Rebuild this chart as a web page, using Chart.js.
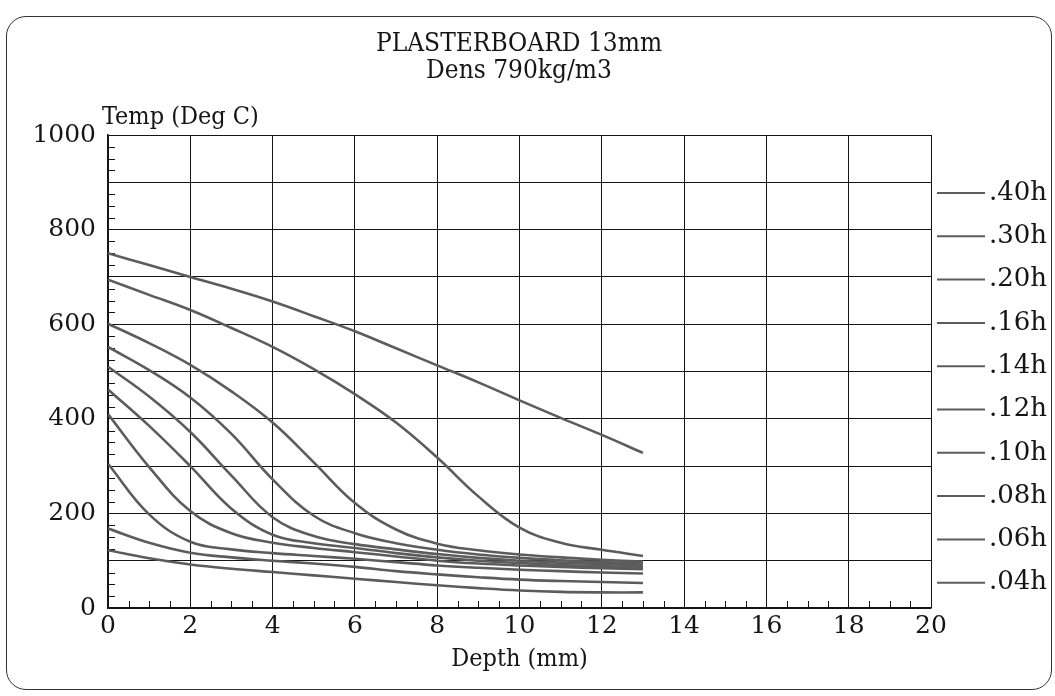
<!DOCTYPE html>
<html>
<head>
<meta charset="utf-8">
<script src="https://cdn.jsdelivr.net/npm/chart.js@4.4.0/dist/chart.umd.min.js"></script>
<style>
html, body { margin: 0; padding: 0; background: #fff; }
#wrap { position: relative; width: 1055px; height: 696px; }
#frame { position: absolute; left: 6px; top: 16px; width: 1046px; height: 674px; border: 1.5px solid #333; border-radius: 20px; box-sizing: border-box; pointer-events: none; }
canvas { position: absolute; left: 0; top: 0; }
</style>
</head>
<body>
<div id="wrap">
  <canvas id="grafico" width="1055" height="696"></canvas>
  <div id="frame"></div>
</div>
<script>
// depth (mm) and temperature profiles (deg C)
const depth = [0, 1, 2, 3, 4, 5, 6, 7, 8, 9, 10, 11, 12, 13];
const t40 = [750, 725, 700, 675, 648, 617, 585, 549, 513, 477, 439, 402, 366, 328];
const t30 = [694, 662, 630, 592, 552, 505, 452, 392, 318, 236, 170, 138, 123, 110];
const t20 = [601, 560, 514, 458, 392, 308, 222, 166, 136, 122, 113, 107, 102, 98];
const t16 = [552, 503, 445, 368, 272, 195, 158, 137, 123, 113, 106, 101, 97, 94];
const t14 = [510, 447, 372, 280, 192, 152, 135, 124, 114, 106, 100, 96, 93, 90];
const t12 = [462, 385, 300, 210, 155, 137, 127, 116, 107, 100, 95, 91, 88, 86];
const t10 = [410, 298, 205, 158, 138, 127, 118, 109, 100, 94, 90, 87, 84, 82];
const t08 = [305, 198, 140, 124, 116, 110, 104, 97, 90, 85, 81, 78, 75, 73];
const t06 = [168, 138, 117, 107, 100, 94, 87, 78, 71, 65, 60, 57, 55, 53];
const t04 = [122, 105, 92, 83, 76, 69, 62, 55, 48, 42, 37, 34, 33, 33];

const times = ['.40h', '.30h', '.20h', '.16h', '.14h', '.12h', '.10h', '.08h', '.06h', '.04h'];
const series = [t40, t30, t20, t16, t14, t12, t10, t08, t06, t04];
const titleLines = ['PLASTERBOARD 13mm', 'Dens 790kg/m3'];
const yTitle = 'Temp (Deg C)';
const xTitle = 'Depth (mm)';

const lineColor = '#5c5c5c';
const ink = '#151515';
const serif = "'DejaVu Serif', 'Liberation Serif', serif";
const serifCond = "'DejaVu Serif Condensed', 'DejaVu Serif', serif";

// titles, y label, legend and small ticks
const extras = {
  id: 'extras',
  beforeDatasetsDraw(chart) {
    const c = chart.ctx;
    const xs = chart.scales.x, ys = chart.scales.y;
    c.save();
    c.strokeStyle = ink;
    c.lineWidth = 1;
    c.beginPath();
    for (let v = 25; v < 1000; v += 25) {
      if (v % 100 === 0) continue;
      const py = Math.round(ys.getPixelForValue(v)) + 0.5;
      c.moveTo(xs.left, py);
      c.lineTo(xs.left + 7, py);
    }
    for (let v = 0.5; v < 20; v += 0.5) {
      if (v % 2 === 0) continue;
      const px = Math.round(xs.getPixelForValue(v)) + 0.5;
      c.moveTo(px, ys.bottom);
      c.lineTo(px, ys.bottom - 7);
    }
    c.stroke();
    c.restore();
  },
  afterDraw(chart) {
    const c = chart.ctx;
    c.save();
    c.fillStyle = ink;
    c.textBaseline = 'middle';
    c.textAlign = 'center';
    c.font = '26px ' + serifCond;
    c.fillText(titleLines[0], 519, 44);
    c.fillText(titleLines[1], 519, 71);
    c.textAlign = 'left';
    c.font = '25px ' + serifCond;
    c.fillText(yTitle, 102, 117);

    // legend
    chart.data.datasets.forEach((ds, i) => {
      const y = 193 + i * 43.3;
      c.strokeStyle = ds.borderColor;
      c.lineWidth = 2;
      c.beginPath();
      c.moveTo(937, y);
      c.lineTo(985, y);
      c.stroke();
      c.fillStyle = ink;
      c.font = '26px ' + serif;
      c.fillText(ds.label, 989, y);
    });
    c.restore();
  }
};

new Chart(document.getElementById('grafico'), {
  type: 'line',
  data: {
    datasets: series.map((s, i) => ({
      label: times[i],
      data: depth.map((d, j) => ({ x: d, y: s[j] })),
      borderColor: lineColor,
      backgroundColor: lineColor,
      borderWidth: 2.6,
      pointRadius: 0,
      fill: false,
      tension: 0.4
    }))
  },
  options: {
    responsive: false,
    animation: false,
    devicePixelRatio: 1,
    layout: { padding: { left: 0, top: 135, right: 124, bottom: 0 } },
    plugins: {
      legend: { display: false },
      tooltip: { enabled: false }
    },
    scales: {
      x: {
        type: 'linear',
        min: 0,
        max: 20,
        afterFit: s => { s.height = 88; },
        ticks: { stepSize: 2, color: ink, padding: 3, font: { family: serif, size: 25 }, maxRotation: 0 },
        grid: { color: ink, lineWidth: 1, drawTicks: false },
        border: { color: ink, width: 1.5 },
        title: { display: true, text: xTitle, color: ink, font: { family: serifCond, size: 25 }, padding: { top: 0, bottom: 22 } }
      },
      y: {
        type: 'linear',
        min: 0,
        max: 1000,
        afterFit: s => { s.width = 108; },
        ticks: {
          stepSize: 100,
          autoSkip: false,
          color: ink,
          padding: 12,
          font: { family: serif, size: 25 },
          callback: v => (v % 200 === 0 ? v : '')
        },
        grid: { color: ink, lineWidth: 1, drawTicks: false },
        border: { color: ink, width: 1.5 }
      }
    }
  },
  plugins: [extras]
});
</script>
</body>
</html>
